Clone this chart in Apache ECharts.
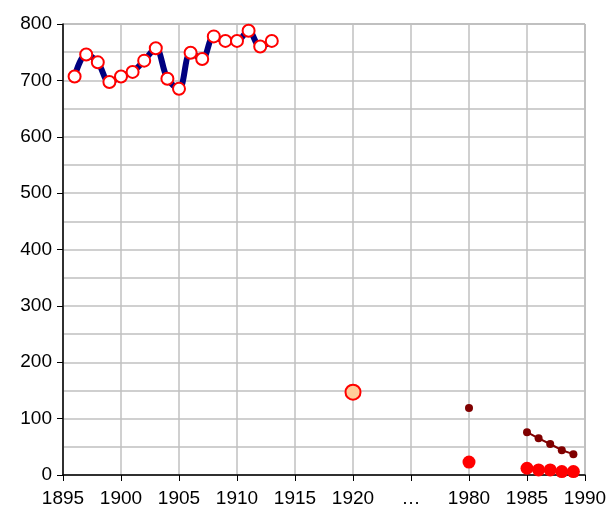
<!DOCTYPE html>
<html>
<head>
<meta charset="utf-8">
<script src="https://cdn.jsdelivr.net/npm/echarts@6/dist/echarts.min.js"></script>
<style>
  html, body { margin: 0; padding: 0; background: #fff; }
  #c1 { width: 611px; height: 516px; }
</style>
</head>
<body>
<div id="c1"></div>
<script>
// main series 1896-1913
var yearsMain = [1896, 1897, 1898, 1899, 1900, 1901, 1902, 1903, 1904, 1905, 1906, 1907, 1908, 1909, 1910, 1911, 1912, 1913];
var valsMain = [707, 746, 732, 697, 707, 715, 735, 757, 703, 685, 749, 738, 778, 770, 770, 788, 760, 770];

// single point 1920
var years1920 = [1920];
var vals1920 = [147];

// dark red series
var yearsDark = [1980, 1985, 1986, 1987, 1988, 1989];
var valsDark = [119, 76, 65, 55, 44, 37];

// red dots
var yearsRed = [1980, 1985, 1986, 1987, 1988, 1989];
var valsRed = [23, 12, 9, 9, 6, 6];

var xTickLabels = ['1895', '1900', '1905', '1910', '1915', '1920', '…', '1980', '1985', '1990'];

// axis break: 1980 sits where 1930 would be
function pos(y) { return y >= 1980 ? y - 50 : y; }
function pairs(xs, vs) {
    return xs.map(function (x, i) { return [pos(x), vs[i]]; });
}

var ec_c1 = echarts.init(document.getElementById('c1'));

var font = { fontFamily: 'Liberation Sans, Arial, sans-serif', fontSize: 19, color: '#000' };

var option = {
    animation: false,
    grid: {
        left: 63, right: 26, top: 24, bottom: 41,
        show: true, borderColor: '#808080', borderWidth: 1
    },
    xAxis: {
        type: 'value',
        min: 1895, max: 1940, interval: 5,
        axisLine: { lineStyle: { color: '#000', width: 1.5 } },
        axisTick: { length: 6, lineStyle: { color: '#000' } },
        axisLabel: Object.assign({
            margin: 14,
            formatter: function (v) { return xTickLabels[Math.round((v - 1895) / 5)]; }
        }, font),
        splitLine: { show: true, lineStyle: { color: '#c0c0c0', width: 1.5 } }
    },
    yAxis: {
        type: 'value',
        min: 0, max: 800, interval: 100,
        axisLine: { show: true, lineStyle: { color: '#000', width: 1.5 } },
        axisTick: { show: true, length: 6, lineStyle: { color: '#000' } },
        axisLabel: Object.assign({ margin: 11 }, font),
        splitLine: { show: true, lineStyle: { color: '#c0c0c0', width: 1.5 } },
        minorTick: { show: false, splitNumber: 2 },
        minorSplitLine: { show: true, lineStyle: { color: '#c0c0c0', width: 1.5 } }
    },
    series: [
        {
            type: 'line',
            data: pairs(yearsMain, valsMain),
            smooth: 0.35,
            lineStyle: { color: '#000080', width: 6 },
            symbol: 'circle', symbolSize: 12,
            itemStyle: { color: '#fff', borderColor: '#ff0000', borderWidth: 2 }
        },
        {
            type: 'scatter',
            data: pairs(years1920, vals1920),
            symbolSize: 15,
            itemStyle: { color: '#ffcc99', borderColor: '#ff0000', borderWidth: 2, opacity: 1 }
        },
        {
            type: 'scatter',
            data: pairs(yearsDark.slice(0, 1), valsDark.slice(0, 1)),
            symbolSize: 8,
            itemStyle: { color: '#800000', opacity: 1 }
        },
        {
            type: 'line',
            data: pairs(yearsDark.slice(1), valsDark.slice(1)),
            lineStyle: { color: '#800000', width: 2 },
            symbol: 'circle', symbolSize: 8,
            itemStyle: { color: '#800000' }
        },
        {
            type: 'scatter',
            data: pairs(yearsRed, valsRed),
            symbolSize: 13,
            itemStyle: { color: '#ff0000', opacity: 1 }
        }
    ]
};

ec_c1.setOption(option);
</script>
</body>
</html>
